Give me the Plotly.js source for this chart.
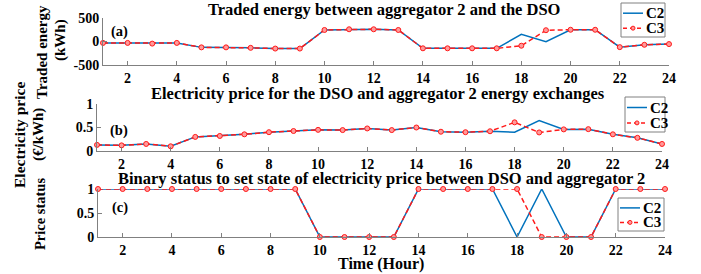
<!DOCTYPE html>
<html>
<head>
<meta charset="utf-8">
<script src="https://cdn.plot.ly/plotly-3.0.1.min.js"></script>
<style>html,body{margin:0;padding:0;background:#fff;}#chart{width:701px;height:274px;}</style>
</head>
<body>
<div id="chart"></div>
<script>
const hours = [1,2,3,4,5,6,7,8,9,10,11,12,13,14,15,16,17,18,19,20,21,22,23,24];
const xTickVals = [2,4,6,8,10,12,14,16,18,20,22,24];
const seriesNames = ['C2', 'C3'];

const energyC2 = [-30,-30,-45,-30,-125,-125,-135,-150,-150,245,260,260,245,-145,-145,-145,-145,153,-5,250,250,-120,-70,-55];
const energyC3 = [-30,-30,-45,-30,-125,-125,-135,-150,-150,245,260,260,245,-145,-145,-145,-145,-90,240,250,250,-120,-70,-55];

const priceC2 = [0.13,0.12,0.15,0.10,0.30,0.32,0.355,0.40,0.425,0.45,0.445,0.48,0.445,0.50,0.41,0.40,0.42,0.40,0.65,0.46,0.465,0.355,0.28,0.15];
const priceC3 = [0.13,0.12,0.15,0.10,0.30,0.32,0.355,0.40,0.425,0.45,0.445,0.48,0.445,0.50,0.41,0.40,0.42,0.61,0.395,0.46,0.465,0.355,0.28,0.15];

const statusC2 = [1,1,1,1,1,1,1,1,1,0,0,0,0,1,1,1,1,0,1,0,0,1,1,1];
const statusC3 = [1,1,1,1,1,1,1,1,1,0,0,0,0,1,1,1,1,1,0,0,0,1,1,1];

const titles = [
  'Traded energy between aggregator 2 and the DSO',
  'Electricity price for the DSO and aggregator 2 energy exchanges',
  'Binary status to set state of electricity price between DSO and aggregator 2'
];

const FONT = 'Liberation Serif';
const BLUE = '#0072BD';
const RED = '#FF1A1A';
const MFILL = '#ff9a9a';
const GREY = '#808080';

function pair(yC2, yC3, ax) {
  return [
    {x: hours, y: yC2, name: seriesNames[0], type: 'scatter', mode: 'lines',
     line: {color: BLUE, width: 1.5}, xaxis: 'x' + ax, yaxis: 'y' + ax, cliponaxis: false},
    {x: hours, y: yC3, name: seriesNames[1], type: 'scatter', mode: 'lines+markers',
     line: {color: RED, width: 1.5, dash: '5px,3px'},
     marker: {symbol: 'circle', size: 5, color: MFILL, line: {color: RED, width: 1}},
     xaxis: 'x' + ax, yaxis: 'y' + ax, cliponaxis: false}
  ];
}

const data = [].concat(
  pair(energyC2, energyC3, ''),
  pair(priceC2, priceC3, '2'),
  pair(statusC2, statusC3, '3')
);

const tickFont = {family: FONT, size: 14, color: '#000', weight: 'bold'};
function xax(dom, anchor) {
  return {domain: dom, anchor: anchor, range: [1, 24], tickvals: xTickVals,
    showline: true, linecolor: GREY, linewidth: 1, ticks: 'inside', ticklen: 4, tickcolor: GREY,
    showgrid: false, zeroline: false, tickfont: tickFont};
}
function yax(dom, anchor, range, vals, text) {
  return {domain: dom, anchor: anchor, range: range, tickvals: vals, ticktext: text,
    showline: true, linecolor: GREY, linewidth: 1, ticks: 'inside', ticklen: 4, tickcolor: GREY,
    showgrid: false, zeroline: false, tickfont: tickFont};
}

const ann = [];
const shapes = [];
function addText(text, x, y, size, angle, anchor) {
  ann.push({text: text, x: x / 701, y: 1 - y / 274, xref: 'paper', yref: 'paper',
    xanchor: anchor || 'center', yanchor: 'middle', showarrow: false, textangle: angle || 0,
    font: {family: FONT, size: size, color: '#000', weight: 'bold'}});
}
function px(x) { return x / 701; }
function py(y) { return 1 - y / 274; }

// Compact MATLAB-style legend boxes (paper coordinates)
function legendBox(L, T, R, B) {
  shapes.push({type: 'rect', xref: 'paper', yref: 'paper', x0: px(L), x1: px(R), y0: py(T), y1: py(B),
    line: {color: GREY, width: 1}, fillcolor: '#fff', layer: 'above'});
  const r1 = T + (B - T) * 0.30, r2 = T + (B - T) * 0.74;
  shapes.push({type: 'line', xref: 'paper', yref: 'paper', x0: px(L + 2), x1: px(L + 22), y0: py(r1), y1: py(r1),
    line: {color: BLUE, width: 1.5}, layer: 'above'});
  shapes.push({type: 'line', xref: 'paper', yref: 'paper', x0: px(L + 2), x1: px(L + 22), y0: py(r2), y1: py(r2),
    line: {color: RED, width: 1.5, dash: '4px,3px'}, layer: 'above'});
  shapes.push({type: 'circle', xref: 'paper', yref: 'paper', x0: px(L + 10), x1: px(L + 14), y0: py(r2 - 2), y1: py(r2 + 2),
    line: {color: RED, width: 1}, fillcolor: MFILL, layer: 'above'});
  addText(seriesNames[0], L + 23, r1, 15, 0, 'left');
  addText(seriesNames[1], L + 23, r2, 15, 0, 'left');
}

addText(titles[0], 384, 10, 16.5);
addText(titles[1], 378, 93, 16.5);
addText(titles[2], 381, 178, 16.5);
addText('(a)', 119, 31, 14.5);
addText('(b)', 119, 130, 14.5);
addText('(c)', 120, 207, 14.5);
addText('Traded energy', 42, 52, 15, -90);
addText('(kWh)', 60, 40, 15, -90);
addText('Electricity price', 19, 135, 15.5, -90);
addText('(€/kWh)', 38, 135, 15, -90);
addText('Price status', 40, 214, 14.5, -90);
addText('Time (Hour)', 381, 264, 16);

legendBox(621, 3, 665, 37);
legendBox(625, 97, 665, 132);
legendBox(618, 198, 664, 231);

const layout = {
  width: 701, height: 274,
  margin: {l: 0, r: 0, t: 0, b: 0},
  paper_bgcolor: '#fff', plot_bgcolor: '#fff',
  font: {family: FONT, color: '#000'},
  showlegend: false,
  xaxis: xax([103/701, 669/701], 'y'),
  yaxis: yax([1 - 65/274, 1 - 18/274], 'x', [-500, 500], [-500, 0, 500], ['-500', '0', '500']),
  xaxis2: xax([97/701, 662/701], 'y2'),
  yaxis2: yax([1 - 151/274, 1 - 104/274], 'x2', [0, 1], [0, 0.5, 1], ['0', '0.5', '1']),
  xaxis3: xax([98/701, 665/701], 'y3'),
  yaxis3: yax([1 - 237/274, 1 - 189/274], 'x3', [0, 1], [0, 0.5, 1], ['0', '0.5', '1']),
  shapes: shapes,
  annotations: ann
};

Plotly.newPlot('chart', data, layout, {staticPlot: true, displayModeBar: false});
</script>
</body>
</html>
